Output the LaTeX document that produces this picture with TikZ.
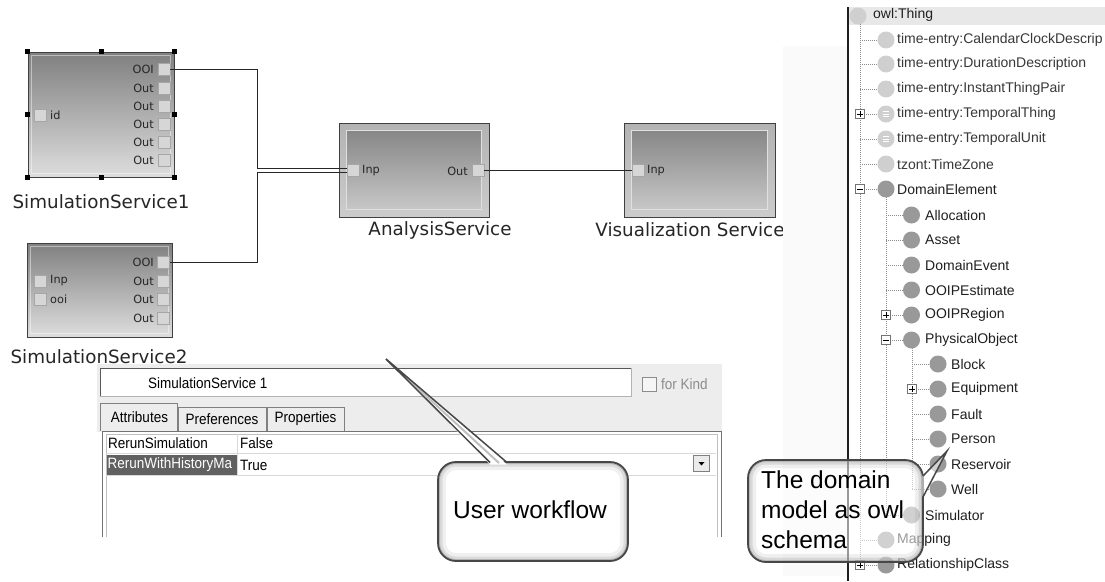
\documentclass[tikz,border=0pt]{standalone}
\usepackage{fontspec}
\setmainfont{Liberation Sans}
\newfontfamily\dvs{DejaVu Sans}
\newfontfamily\pnl[FakeStretch=0.9]{Liberation Sans}
\newcommand\tminus[3]{\node[xbox] (#1) at (#2,#3) {};\draw[line width=0.7pt] ([xshift=-2.6pt]#1.center) -- ([xshift=2.6pt]#1.center);}
\newcommand\tplus[3]{\tminus{#1}{#2}{#3}\draw[line width=0.7pt] ([yshift=-2.6pt]#1.center) -- ([yshift=2.6pt]#1.center);}
\newcommand\teq[1]{\draw[white, line width=0.8pt] ([shift={(-3pt,2.2pt)}]#1.center) -- ++(6pt,0) ([shift={(-3pt,0pt)}]#1.center) -- ++(6pt,0) ([shift={(-3pt,-2.2pt)}]#1.center) -- ++(6pt,0);}
\tikzset{
 svc/.style={draw=black!75, line width=1pt, top color=black!50, bottom color=black!13, inner sep=0pt},
 bev/.style={draw=black!75, line width=1pt, top color=black!30, bottom color=black!20, inner sep=0pt},
 port/.style={rectangle, draw=black!35, fill=black!16, minimum size=12pt, inner sep=0pt},
 plbl/.style={font=\dvs\fontsize{11.3}{12}\selectfont, inner sep=0pt, text=black!85},
 handle/.style={fill=black, minimum size=5pt, inner sep=0pt},
 svclbl/.style={font=\dvs\fontsize{18.3}{22}\selectfont, text=black!85, inner sep=0pt},
 conn/.style={draw=black!85, line width=0.9pt},
 ptxt/.style={font=\pnl\fontsize{15}{17}\selectfont, inner sep=0pt, text=black},
 tabl/.style={draw=black!50, line width=0.8pt},
 tdot/.style={draw=black!45, line width=0.5pt, dash pattern=on 1pt off 1pt},
 tcirc/.style={circle, minimum size=17pt, inner sep=0pt, fill=black!40},
 lcirc/.style={circle, minimum size=17pt, inner sep=0pt, fill=black!19},
 ttxt/.style={anchor=west, font=\fontsize{14}{16}\selectfont, inner sep=0pt, text=black!88},
 xbox/.style={rectangle, draw=black!55, fill=white, minimum size=9pt, inner sep=0pt},
 cotxt/.style={font=\fontsize{24.5}{30}\selectfont, text=black, inner sep=0pt}
}
\begin{document}
\begin{tikzpicture}[x=1pt,y=-1pt]
\useasboundingbox (0,0) rectangle (1105,581);
\fill[white] (0,0) rectangle (1105,581);

% ---------- services ----------
\node[svc, minimum width=146pt, minimum height=125pt] (sim1) at (101,114.5) {};
\draw[white, opacity=0.45, line width=1pt] ([shift={(4pt,-4pt)}]sim1.north west) rectangle ([shift={(-4pt,4pt)}]sim1.south east);
\foreach \a/\n in {north west/1,north/2,north east/3,west/4,east/5,south west/6,south/7,south east/8}
  \node[handle] (h\n) at (sim1.\a) {};
\foreach \i/\y/\t in {1/69/OOI,2/88/Out,3/106/Out,4/124/Out,5/142/Out,6/160/Out}{
  \node[port] (s1r\i) at (164,\y) {};
  \node[plbl, anchor=east] (s1rl\i) at (154,\y) {\t};}
\node[port] (s1id) at (40.5,115) {};
\node[plbl, anchor=west] (s1idl) at (50,115) {id};
\node[svclbl] (sim1l) at (101,202) {SimulationService1};

\node[svc, minimum width=145pt, minimum height=94pt] (sim2) at (99.5,290) {};
\draw[white, opacity=0.45, line width=1pt] ([shift={(4pt,-4pt)}]sim2.north west) rectangle ([shift={(-4pt,4pt)}]sim2.south east);
\foreach \i/\y/\t in {1/262/OOI,2/281/Out,3/299/Out,4/318/Out}{
  \node[port] (s2r\i) at (163.5,\y) {};
  \node[plbl, anchor=east] (s2rl\i) at (154,\y) {\t};}
\node[port] (s2inp) at (40,281) {};
\node[plbl, anchor=west] (s2inpl) at (50,281) {Inp};
\node[port] (s2ooi) at (40,299) {};
\node[plbl, anchor=west] (s2ooil) at (50,299) {ooi};
\node[svclbl] (sim2l) at (99,357) {SimulationService2};

\node[bev, minimum width=150pt, minimum height=94pt] (an) at (414,170) {};
\draw[draw=black!12, top color=black!47, bottom color=black!22] ([shift={(8pt,-8pt)}]an.north west) rectangle ([shift={(-8pt,8pt)}]an.south east);
\node[port] (ain) at (353.5,170.5) {};
\node[plbl, anchor=west] (ainl) at (362,171) {Inp};
\node[port] (aout) at (478,170.5) {};
\node[plbl, anchor=east] (aoutl) at (468,171) {Out};
\node[svclbl] (anl) at (440,230) {AnalysisService};

\node[bev, minimum width=151pt, minimum height=94pt] (vis) at (699.5,170) {};
\draw[draw=black!12, top color=black!47, bottom color=black!22] ([shift={(8pt,-8pt)}]vis.north west) rectangle ([shift={(-8pt,8pt)}]vis.south east);
\node[port] (vin) at (638,170.5) {};
\node[plbl, anchor=west] (vinl) at (647,171) {Inp};
\node[svclbl] (visl) at (690,230) {Visualization Service};

% ---------- connectors ----------
\coordinate (jx) at (257.5,0);
\draw[conn] (s1r1.east) -- (s1r1.east -| jx) |- ([yshift=2pt]ain.west);
\draw[conn] (s2r1.east) -- (s2r1.east -| jx) |- ([yshift=-2pt]ain.west);
\draw[conn] (aout.east) -- (vin.west);

% ---------- properties panel ----------
\fill[black!7] (97,364) rectangle (722,432);
\draw[fill=white, draw=black!30] (100,368) rectangle (631,396);
\draw[black!65, line width=1.3pt] (100.5,396) -- (100.5,368.5) -- (631,368.5);
\node[ptxt, anchor=west] (ssname) at (148,383) {SimulationService 1};
\node[draw=black!45, fill=black!4, minimum size=14pt, inner sep=0pt] (chk) at (649.5,384) {};
\node[ptxt, anchor=west, text=black!45] (fk) at (661,384) {for Kind};
\draw[tabl] (100,431) -- (100,403) -- (177,403) -- (177,431);
\draw[tabl] (178,431) -- (178,407) -- (266,407) -- (266,431);
\draw[tabl] (267,431) -- (267,407) -- (344,407) -- (344,431);
\node[ptxt] (tab1) at (139.5,417) {Attributes};
\node[ptxt] (tab2) at (222,419) {Preferences};
\node[ptxt] (tab3) at (305.5,419) {Properties};
\fill[white] (103,431) rectangle (720,537);
\draw[black!55, line width=1pt] (102,537) -- (102,431) -- (721,431) -- (721,537);
\draw[black!25, line width=0.8pt] (106,537) -- (106,434) -- (717,434) -- (717,537);
\draw[black!15] (106,453) -- (716,453) (106,475) -- (716,475) (237,434) -- (237,475);
\fill[black!62] (107,455) rectangle (237,475);
\node[ptxt, anchor=west] (r1a) at (108,443) {RerunSimulation};
\node[ptxt, anchor=west] (r1b) at (240,443) {False};
\node[ptxt, anchor=west, text=white] (r2a) at (107.5,465) {RerunWithHistoryMa};
\node[ptxt, anchor=west] (r2b) at (240,465) {True};
\node[draw=black!50, fill=black!8, minimum size=16pt, inner sep=0pt] (dd) at (701.5,463.5) {};
\fill[black] ([shift={(-3pt,1.5pt)}]dd.center) -- ++(6pt,0) -- ++(-3pt,-3.5pt) -- cycle;

% ---------- ontology tree ----------
\fill[black!2] (783,46) rectangle (847,576);
\fill[black!9] (849,7) rectangle (1105,25);
\begin{scope}
\clip (849,7) rectangle (1105,25);
\node[lcirc] (owlc) at (858,16) {};
\end{scope}
\node[ttxt] (owlt) at (873,15) {owl:Thing};
\draw[black!88, line width=2pt] (848,7) -- (848,581);
\draw[tdot] (860,24) -- (860,565);
\draw[tdot] (886,197) -- (886,515);
\draw[tdot] (912,348) -- (912,489);
\foreach \y/\t in {40/time-entry:CalendarClockDescrip,64/time-entry:DurationDescription,89/time-entry:InstantThingPair,114/time-entry:TemporalThing,139/time-entry:TemporalUnit,164/tzont:TimeZone}{
  \draw[tdot] (860,\y) -- (877,\y);
  \node[lcirc] (c\y) at (886,\y) {};
  \node[ttxt, text=black!78] (t\y) at (897,\y) {\t};}
\foreach \y/\t in {189/DomainElement,540/Mapping,565/RelationshipClass}{
  \draw[tdot] (860,\y) -- (877,\y);
  \node[tcirc] (c\y) at (886,\y) {};
  \node[ttxt] (t\y) at (897,\y) {\t};}
\foreach \y/\t in {215/Allocation,240/Asset,265/DomainEvent,290/OOIPEstimate,315/OOIPRegion,340/PhysicalObject,515/Simulator}{
  \draw[tdot] (886,\y) -- (903,\y);
  \node[tcirc] (c\y) at (911.5,\y) {};
  \node[ttxt] (t\y) at (925,\y) {\t};}
\foreach \y/\t in {364/Block,389/Equipment,414/Fault,439/Person,464/Reservoir,489/Well}{
  \draw[tdot] (912,\y) -- (929,\y);
  \node[tcirc] (c\y) at (938,\y) {};
  \node[ttxt] (t\y) at (951,\y) {\t};}
\teq{c114}
\teq{c139}
\tplus{x114}{860}{114}
\tminus{x189}{860}{189}
\tplus{x565}{860}{565}
\tplus{x315}{886}{315}
\tminus{x340}{886}{340}
\tplus{x389}{912}{389}

% ---------- callout: user workflow ----------
\begin{scope}
\clip[rounded corners=18pt] (438,462) rectangle (628,561);
\fill[white] (438,462) rectangle (628,561);
\draw[black!6, line width=16pt, rounded corners=18pt] (438,462) rectangle (628,561);
\draw[black!14, line width=9pt, rounded corners=18pt] (438,462) rectangle (628,561);
\draw[black!30, line width=4pt, rounded corners=18pt] (438,462) rectangle (628,561);
\end{scope}
\draw[black!72, line width=1.8pt, rounded corners=18pt] (438,462) rectangle (628,561);
\coordinate (uwtip) at (386,359);
\fill[white] (490,464.5) -- (uwtip) -- (507,464.5) -- cycle;
\draw[black!25, line width=2pt] (499,463) -- (uwtip);
\draw[black!72, line width=1.5pt] (490,462.5) -- (uwtip) -- (507,462.5);
\node[cotxt] (uw) at (530,510) {User workflow};

% ---------- callout: domain model ----------
\begin{scope}
\clip[rounded corners=18pt] (748,460) rectangle (923,562);
\fill[white, opacity=0.55] (748,460) rectangle (923,562);
\draw[black!50, opacity=0.12, line width=16pt, rounded corners=18pt] (748,460) rectangle (923,562);
\draw[black!50, opacity=0.2, line width=9pt, rounded corners=18pt] (748,460) rectangle (923,562);
\draw[black!50, opacity=0.35, line width=4pt, rounded corners=18pt] (748,460) rectangle (923,562);
\end{scope}
\draw[black!72, line width=1.8pt, rounded corners=18pt] (748,460) rectangle (923,562);
\coordinate (dmtip) at (947,451);
\fill[white, opacity=0.55] (922,476) -- (dmtip) -- (922,497) -- cycle;
\draw[black!72, line width=1.5pt] (923,476) -- (dmtip) -- (923,497);
\node[cotxt, anchor=west, align=left] (dm) at (761,510) {The domain\\model as owl\\schema};
\end{tikzpicture}
\end{document}
